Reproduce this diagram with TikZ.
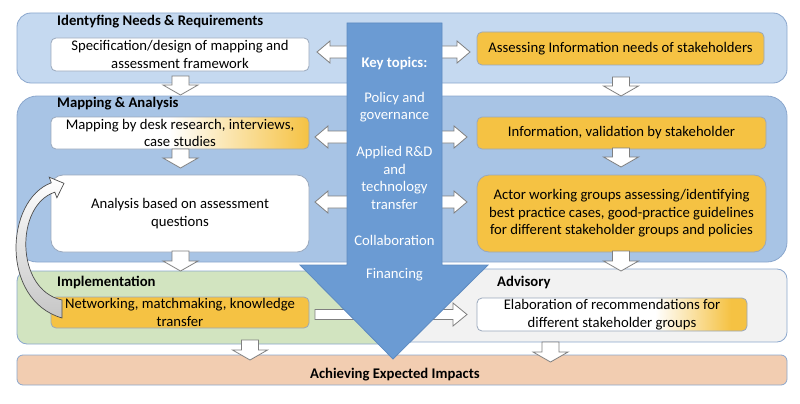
\documentclass[tikz,border=0pt]{standalone}
\usepackage{fontspec}
\setmainfont{Carlito}
\definecolor{panA}{HTML}{C5D9F0}
\definecolor{panB}{HTML}{A8C4E5}
\definecolor{panBorder}{HTML}{8BA7CD}
\definecolor{panGreen}{HTML}{D2E4C0}
\definecolor{panGrey}{HTML}{F2F2F2}
\definecolor{panPeach}{HTML}{F2CDB1}
\definecolor{boxOrange}{HTML}{F5C243}
\definecolor{boxBorder}{HTML}{9AA8BC}
\definecolor{bigBlue}{HTML}{6B9BD3}
\definecolor{bigBorder}{HTML}{5D8AC0}
\definecolor{blkBorder}{HTML}{7F7F7F}
\pgfdeclarehorizontalshading{woA}{100bp}{color(0bp)=(white); color(48bp)=(white); color(75bp)=(boxOrange); color(100bp)=(boxOrange)}
\pgfdeclarehorizontalshading{woB}{100bp}{color(0bp)=(white); color(58bp)=(white); color(72bp)=(boxOrange); color(100bp)=(boxOrange)}
\newcommand{\fs}{\fontsize{14.7}{17.5}\selectfont}
\newcommand{\downblk}[3]{%
  \draw[blk] (#1-8.5,#2) -- (#1+8.5,#2) -- (#1+8.5,#3-10) -- (#1+17.5,#3-10) -- (#1,#3) -- (#1-17.5,#3-10) -- (#1-8.5,#3-10) -- cycle;}
\newcommand{\dblblk}[3]{%
  \draw[blk] (#1,#3) -- (#1+13,#3-11) -- (#1+13,#3-6) -- (#2-13,#3-6) -- (#2-13,#3-11) -- (#2,#3) -- (#2-13,#3+11) -- (#2-13,#3+6) -- (#1+13,#3+6) -- (#1+13,#3+11) -- cycle;}
\begin{document}
\begin{tikzpicture}[x=1pt,y=-1pt,
  panel/.style={draw=panBorder, line width=0.8pt, inner sep=0pt},
  box/.style={draw=boxBorder, line width=0.8pt, rounded corners=5pt, align=center, inner sep=0pt, font=\fs},
  orbox/.style={box, fill=boxOrange},
  whbox/.style={box, fill=white},
  head/.style={font=\fs\bfseries, anchor=west, inner sep=0pt},
  blk/.style={draw=blkBorder, fill=white, line width=0.8pt},
  keytxt/.style={font=\fs, text=white, align=center, inner sep=0pt}]
\useasboundingbox (0,0) rectangle (800,404);
% panels
\node[panel, fill=panA, rounded corners=14pt, minimum width=770, minimum height=70] (p1) at (402,48) {};
\node[panel, fill=panB, rounded corners=20pt, minimum width=770, minimum height=166] (p2) at (402,179) {};
\node[panel, fill=panGreen, rounded corners=10pt, minimum width=380, minimum height=73] (p3) at (207,307.5) {};
\node[panel, fill=panGrey, rounded corners=10pt, minimum width=392, minimum height=73] (p4) at (591,305.5) {};
\node[panel, fill=panPeach, rounded corners=6pt, minimum width=770, minimum height=30] (p5) at (402,370) {};
% headers
\node[head] (h1) at (57,22) {Identyfing Needs \& Requirements};
\node[head] (h2) at (57,104) {Mapping \& Analysis};
\node[head] (h3) at (57,282) {Implementation};
\node[head] (h4) at (497,282) {Advisory};
\node[font=\fs\bfseries, inner sep=0pt] (h5) at (395,375) {Achieving Expected Impacts};
% boxes
\node[whbox, minimum width=258, minimum height=33] (b1) at (180,54.5) {Specification/design of mapping and\\assessment framework};
\node[orbox, minimum width=287, minimum height=33] (b2) at (620.5,48.5) {Assessing Information needs of stakeholders};
\node[box, shading=woA, minimum width=258, minimum height=32] (b3) at (180,133) {Mapping by desk research, interviews,\\case studies};
\node[orbox, minimum width=289, minimum height=32] (b4) at (621.5,133) {Information, validation by stakeholder};
\node[whbox, rounded corners=12pt, minimum width=258, minimum height=77] (b5) at (180,213.5) {Analysis based on assessment\\questions};
\node[orbox, rounded corners=12pt, minimum width=289, minimum height=77] (b6) at (621.5,213.5) {Actor working groups assessing/identifying\\best practice cases, good-practice guidelines\\for different stakeholder groups and policies};
\node[orbox, minimum width=258, minimum height=31] (b7) at (180,312.5) {Networking, matchmaking, knowledge\\transfer};
\node[box, shading=woB, minimum width=270, minimum height=33] (b8) at (612,314.5) {Elaboration of recommendations for\\different stakeholder groups};
% down block arrows
\downblk{180.5}{76}{95}
\downblk{621}{77}{96}
\downblk{180.5}{149}{168}
\downblk{621}{148}{167}
\downblk{180.5}{251}{271}
\downblk{621}{251}{271}
\downblk{250}{340}{360}
\downblk{550.5}{342}{362}
% horizontal block arrows
\dblblk{317}{470}{52}
\dblblk{315}{467}{137}
\dblblk{315}{467}{202}
\draw[blk] (315,309.5) -- (453,309.5) -- (453,303) -- (467,314.5) -- (453,326) -- (453,319.5) -- (315,319.5) -- cycle;
% big arrow
\draw[fill=bigBlue, draw=bigBorder, line width=0.8pt] (347,23) -- (442,23) -- (442,265) -- (488,265) -- (393,359) -- (300,265) -- (347,265) -- cycle;
\node[keytxt, font=\fs\bfseries] (k0) at (394.5,63) {Key topics:};
\node[keytxt] (k1) at (394.5,107) {Policy and\\governance};
\node[keytxt] (k2) at (394.5,178) {Applied R\&D\\and\\technology\\transfer};
\node[keytxt] (k3) at (394.5,240) {Collaboration};
\node[keytxt] (k4) at (394.5,275) {Financing};
% curved arrow
\draw[draw=gray!60!black, line width=0.7pt, top color=white, bottom color=gray!45]
  (62,300) .. controls (15,290) and (15,205) .. (54.8,192.2) -- (56.9,197.8) -- (64,183.3) -- (49.2,177.2) -- (51.3,182.8) .. controls (5,200) and (0,300) .. (62,318) -- cycle;
\end{tikzpicture}
\end{document}
